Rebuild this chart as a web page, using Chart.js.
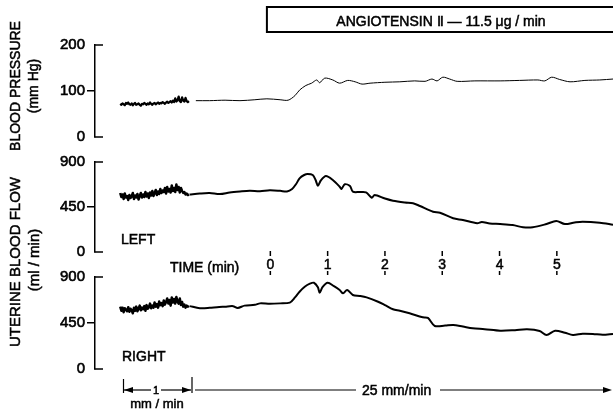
<!DOCTYPE html>
<html>
<head>
<meta charset="utf-8">
<script src="https://cdn.jsdelivr.net/npm/chart.js@4.4.1/dist/chart.umd.min.js"></script>
<style>
  html, body { margin: 0; padding: 0; background: #fff; }
  #wrap { width: 613px; height: 411px; }
</style>
</head>
<body>
<div id="wrap"><canvas id="trace" width="613" height="411"></canvas></div>
<script>
// x = chart position in minutes at 25 mm/min (0 = start of infusion)
// slow part of the record (1 mm/min) squeezed onto the left
const slowTime = [-2.62, -2.60, -2.58, -2.56, -2.54, -2.52, -2.50, -2.48, -2.46, -2.44,
  -2.42, -2.40, -2.38, -2.36, -2.34, -2.32, -2.30, -2.28, -2.26, -2.24,
  -2.22, -2.20, -2.18, -2.16, -2.14, -2.12, -2.10, -2.08, -2.06, -2.04,
  -2.02, -2.00, -1.98, -1.96, -1.94, -1.92, -1.90, -1.88, -1.86, -1.84,
  -1.82, -1.80, -1.78, -1.76, -1.74, -1.72, -1.70, -1.68, -1.66, -1.64,
  -1.62, -1.60, -1.58, -1.56, -1.54, -1.52, -1.50, -1.48, -1.46, -1.44, -1.42];
const bpSlow = [72, 70, 73, 71, 69, 74, 72, 75, 71, 70,
  73, 69, 72, 74, 70, 71, 73, 70, 68, 72,
  71, 74, 72, 70, 73, 71, 75, 72, 70, 73,
  74, 71, 73, 75, 72, 74, 73, 76, 74, 72,
  75, 77, 74, 76, 78, 75, 79, 76, 84, 77,
  80, 88, 78, 76, 86, 79, 77, 85, 78, 76, 78];
const leftSlow = [590, 550, 575, 530, 585, 545, 560, 520, 570, 540,
  555, 590, 530, 565, 545, 580, 525, 560, 590, 545,
  575, 550, 600, 555, 585, 540, 595, 565, 610, 560,
  590, 620, 570, 605, 580, 630, 590, 615, 600, 640,
  585, 650, 605, 630, 595, 665, 610, 640, 600, 675,
  620, 650, 595, 640, 610, 590, 600, 575, 585, 570, 575];
const rightSlow = [610, 570, 600, 555, 595, 580, 565, 605, 560, 590,
  575, 545, 600, 570, 610, 565, 590, 620, 575, 600,
  585, 615, 570, 625, 590, 605, 640, 595, 620, 600,
  650, 610, 635, 600, 660, 625, 645, 615, 670, 630,
  655, 690, 640, 675, 620, 700, 650, 685, 640, 705,
  660, 640, 690, 625, 655, 610, 630, 600, 620, 610, 615];

// 25 mm/min part
const bpTime = [-1.30, -1.06, -0.79, -0.53, -0.27, -0.06, 0.17, 0.31, 0.43, 0.51, 0.62, 0.72,
  0.81, 0.86, 0.95, 1.09, 1.21, 1.35, 1.48, 1.60, 1.74, 2.00, 2.26, 2.52, 2.70, 2.82, 2.91,
  3.01, 3.13, 3.26, 3.57, 4.01, 4.35, 4.67, 4.79, 4.91, 5.05, 5.23, 5.49, 5.75, 5.98];
const bpFast = [79, 79, 80, 79, 81, 83, 81, 80, 90, 102, 112, 117, 124, 118, 128, 124, 117, 123,
  120, 115, 117, 119, 120, 122, 121, 126, 122, 130, 126, 121, 122, 122, 123, 124, 122, 130, 125,
  120, 123, 124, 126];

const leftTime = [-1.41, -1.23, -1.06, -0.88, -0.71, -0.53, -0.36, -0.18, -0.01, 0.17, 0.29, 0.38,
  0.45, 0.51, 0.59, 0.65, 0.74, 0.79, 0.83, 0.88, 0.97, 1.09, 1.21, 1.24, 1.30, 1.39, 1.44, 1.56,
  1.67, 1.77, 1.82, 2.00, 2.14, 2.35, 2.49, 2.61, 2.84, 2.96, 3.19, 3.36, 3.61, 3.69, 3.83, 4.01,
  4.23, 4.41, 4.58, 4.82, 4.99, 5.14, 5.31, 5.45, 5.75, 5.98];
const leftFast = [575, 585, 590, 580, 595, 605, 612, 608, 618, 612, 605, 630, 680, 737, 770, 780,
  770, 720, 663, 715, 760, 720, 653, 630, 677, 660, 603, 600, 597, 543, 570, 535, 513, 495, 487,
  460, 403, 393, 337, 320, 287, 300, 285, 280, 270, 247, 247, 280, 310, 280, 295, 303, 293, 273];

const rightTime = [-1.41, -1.23, -1.06, -0.93, -0.79, -0.65, -0.57, -0.45, -0.27, -0.18, -0.01,
  0.17, 0.34, 0.43, 0.51, 0.60, 0.69, 0.76, 0.83, 0.86, 0.91, 1.00, 1.11, 1.21, 1.27, 1.34, 1.44,
  1.56, 1.68, 1.88, 2.00, 2.14, 2.26, 2.43, 2.66, 2.75, 2.87, 3.05, 3.19, 3.36, 3.53, 3.74, 4.01,
  4.27, 4.48, 4.70, 4.82, 4.97, 5.14, 5.28, 5.45, 5.63, 5.80, 5.98];
const rightFast = [615, 595, 598, 605, 610, 615, 597, 620, 628, 642, 638, 642, 650, 700, 756, 805,
  835, 844, 800, 746, 800, 844, 810, 773, 740, 773, 724, 715, 701, 658, 625, 584, 570, 545, 506,
  500, 421, 425, 431, 415, 398, 390, 375, 380, 388, 372, 333, 375, 355, 333, 345, 343, 335, 343];

const timeTicks = [0, 1, 2, 3, 4, 5];
const bpTicks = [0, 100, 200];
const flowTicks = [0, 450, 900];
const infusionLabel = 'ANGIOTENSIN \u2161 \u2014 11.5 \u03bcg / min';

const AXIS_W = 95;
const WORD_FONT = '"Liberation Sans", Arial, sans-serif';

function pts(t, v) {
    return t.map((x, i) => ({ x: x, y: v[i] }));
}

function trace(t, v, axis, w, tension) {
    return {
        data: pts(t, v),
        yAxisID: axis,
        borderColor: '#000',
        borderWidth: w,
        borderJoinStyle: 'round',
        pointRadius: 0,
        tension: tension,
        fill: false
    };
}

// one panel of the stacked left axes
function panelAxis(ticks, weight, stackWeight) {
    return {
        type: 'linear',
        position: 'left',
        stack: 'panels',
        stackWeight: stackWeight,
        weight: weight,
        min: ticks[0],
        max: ticks[2],
        afterBuildTicks: s => { s.ticks = ticks.map(v => ({ value: v })); },
        afterFit: s => { s.width = AXIS_W; },
        border: { display: true, color: '#000', width: 1.5 },
        grid: {
            drawOnChartArea: false,
            tickLength: 8,
            lineWidth: 1.5,
            // only the middle tick points outwards, the ends are drawn as a bracket
            color: c => (c.tick && c.tick.value === ticks[1]) ? '#000' : 'rgba(0,0,0,0)'
        },
        ticks: {
            color: '#000', padding: 2,
            textStrokeColor: '#000', textStrokeWidth: 0.6,
            font: { family: WORD_FONT, size: 15 }
        }
    };
}

// empty axis, just to leave space between the panels
function gapAxis(weight, stackWeight) {
    return {
        type: 'linear',
        position: 'left',
        stack: 'panels',
        stackWeight: stackWeight,
        weight: weight,
        afterFit: s => { s.width = AXIS_W; },
        border: { display: false },
        grid: { display: false },
        ticks: { display: false }
    };
}

function line(ctx, x1, y1, x2, y2) {
    ctx.beginPath();
    ctx.moveTo(x1, y1);
    ctx.lineTo(x2, y2);
    ctx.stroke();
}

// slightly heavy lettering, like the inked original
function txt(ctx, str, x, y) {
    ctx.save();
    ctx.lineWidth = 0.5;
    ctx.fillText(str, x, y);
    ctx.strokeText(str, x, y);
    ctx.restore();
}

function vtext(ctx, str, cx, cy, font) {
    ctx.save();
    ctx.translate(cx, cy);
    ctx.rotate(-Math.PI / 2);
    ctx.font = font;
    ctx.textAlign = 'center';
    ctx.textBaseline = 'middle';
    txt(ctx, str, 0, 0);
    ctx.restore();
}

function arrowHead(ctx, x, y, dir) {
    ctx.beginPath();
    ctx.moveTo(x, y);
    ctx.lineTo(x - dir * 9, y - 3);
    ctx.lineTo(x - dir * 9, y + 3);
    ctx.closePath();
    ctx.fill();
}

const annotations = {
    id: 'annotations',
    afterDraw(chart) {
        const ctx = chart.ctx;
        const xs = chart.scales.x;
        ctx.save();
        ctx.strokeStyle = '#000';
        ctx.fillStyle = '#000';

        // bracket ends of each panel axis
        ctx.lineWidth = 1.5;
        ['yBP', 'yLeft', 'yRight'].forEach(id => {
            const s = chart.scales[id];
            [s.min, s.max].forEach(v => {
                const py = s.getPixelForValue(v);
                line(ctx, s.right - 0.75, py, s.right + 8, py);
            });
        });

        // axis titles
        vtext(ctx, 'BLOOD PRESSURE', 16, 86, '14px ' + WORD_FONT);
        vtext(ctx, '(mm Hg)', 34, 86, '14px ' + WORD_FONT);
        vtext(ctx, 'UTERINE BLOOD FLOW', 16, 262, '15px ' + WORD_FONT);
        vtext(ctx, '(ml / min)', 35, 260, '15px ' + WORD_FONT);

        // infusion bar
        const x0 = xs.getPixelForValue(-0.06);
        ctx.lineWidth = 2;
        ctx.strokeRect(x0, 7, 400, 25);
        ctx.font = '14px ' + WORD_FONT;
        ctx.textAlign = 'center';
        ctx.textBaseline = 'alphabetic';
        txt(ctx, infusionLabel, 441, 25.5);

        // panel labels
        ctx.textAlign = 'left';
        ctx.font = '14px ' + WORD_FONT;
        txt(ctx, 'LEFT', 121, 244);
        txt(ctx, 'RIGHT', 122, 361);
        txt(ctx, 'TIME (min)', 170, 271.5);

        // time marks between the flow panels
        ctx.textAlign = 'center';
        ctx.lineWidth = 1.5;
        timeTicks.forEach(t => {
            const px = xs.getPixelForValue(t);
            txt(ctx, String(t), px, 269);
            line(ctx, px, 251, px, 256);
            line(ctx, px, 271, px, 275);
        });

        // chart speed bars along the bottom
        ctx.lineWidth = 1.2;
        line(ctx, 123.5, 379, 123.5, 393);
        line(ctx, 192, 377, 192, 393);
        line(ctx, 124, 390, 151, 390);
        arrowHead(ctx, 124, 390, -1);
        line(ctx, 161, 390, 191, 390);
        arrowHead(ctx, 191, 390, 1);
        ctx.font = '11px ' + WORD_FONT;
        txt(ctx, '1', 156, 394);
        ctx.font = '13px ' + WORD_FONT;
        txt(ctx, 'mm / min', 157, 408);

        ctx.lineWidth = 1.2;
        line(ctx, 195, 390, 356, 390);
        ctx.textAlign = 'left';
        ctx.font = '14px ' + WORD_FONT;
        txt(ctx, '25 mm/min', 362, 395);
        ctx.lineWidth = 1.2;
        line(ctx, 440, 390, 605, 390);
        arrowHead(ctx, 612, 390, 1);

        ctx.restore();
    }
};

new Chart(document.getElementById('trace'), {
    type: 'line',
    data: {
        datasets: [
            trace(slowTime, bpSlow, 'yBP', 2.2, 0),
            trace(bpTime, bpFast, 'yBP', 1, 0.3),
            trace(slowTime, leftSlow, 'yLeft', 2.5, 0),
            trace(leftTime, leftFast, 'yLeft', 2, 0.3),
            trace(slowTime, rightSlow, 'yRight', 2.5, 0),
            trace(rightTime, rightFast, 'yRight', 2, 0.3)
        ]
    },
    options: {
        responsive: false,
        animation: false,
        events: [],
        layout: { padding: { top: 45, bottom: 42, left: 0, right: 0 } },
        scales: {
            x: { type: 'linear', min: -3.06, max: 5.98, display: false },
            yRight: panelAxis(flowTicks, 1, 92),
            gap2: gapAxis(2, 25),
            yLeft: panelAxis(flowTicks, 3, 90),
            gap1: gapAxis(4, 25),
            yBP: panelAxis(bpTicks, 5, 92)
        },
        plugins: {
            legend: { display: false },
            tooltip: { enabled: false }
        }
    },
    plugins: [annotations]
});
</script>
</body>
</html>
